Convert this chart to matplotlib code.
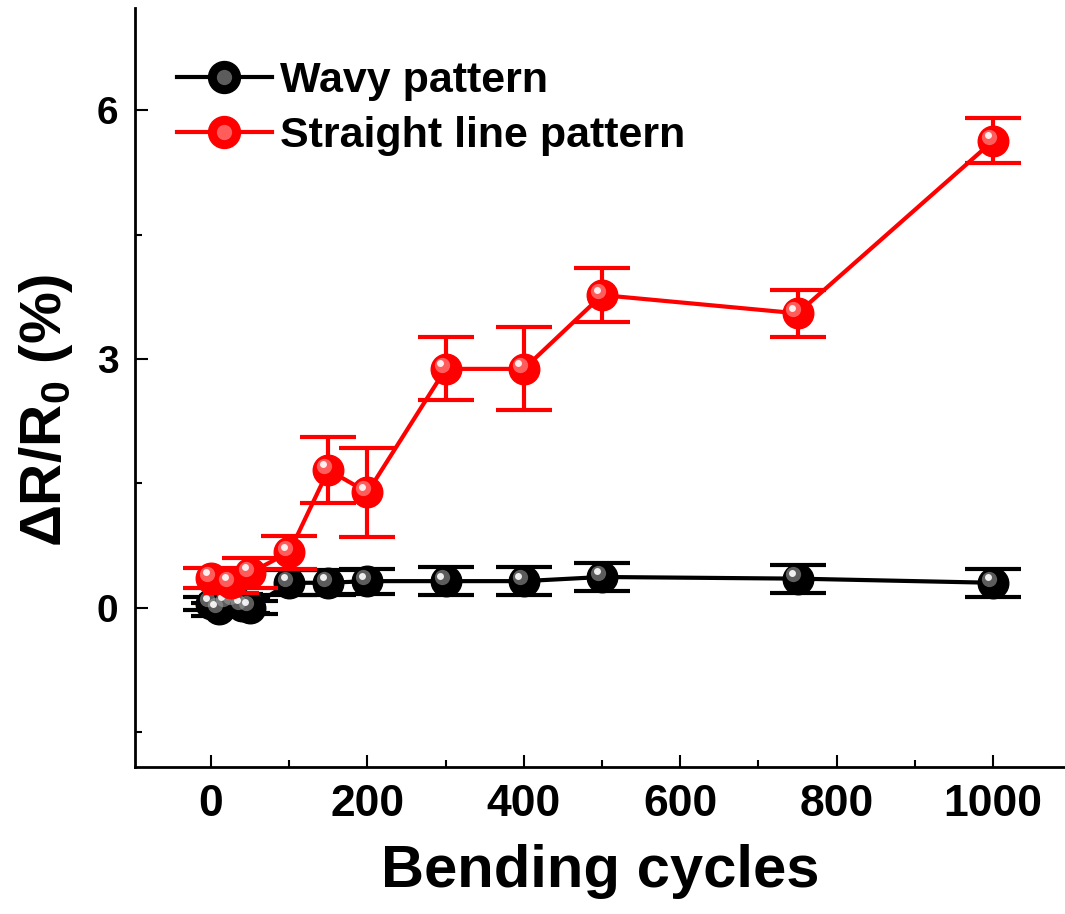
import numpy as np
import matplotlib
matplotlib.use('Agg')
import matplotlib.pyplot as plt
import matplotlib.transforms as mtransforms
from matplotlib.lines import Line2D
from matplotlib.legend_handler import HandlerTuple

plt.rcParams.update({
    'font.family': ['Liberation Sans', 'DejaVu Sans'],
    'font.weight': 'bold',
    'axes.linewidth': 2,
    'mathtext.fontset': 'custom',
    'mathtext.rm': 'Liberation Sans:bold',
    'mathtext.bf': 'Liberation Sans:bold',
})

# data
cycles_wavy = [0, 10, 20, 30, 40, 50, 100, 150, 200, 300, 400, 500, 750, 1000]
dr_wavy = [0.05, -0.02, 0.06, 0.08, 0.02, 0.0, 0.30, 0.30, 0.32, 0.32, 0.32, 0.37, 0.35, 0.30]
err_wavy = [0.08, 0.08, 0.08, 0.08, 0.08, 0.08, 0.15, 0.15, 0.15, 0.17, 0.17, 0.17, 0.17, 0.17]

cycles_straight = [0, 25, 50, 100, 150, 200, 300, 400, 500, 750, 1000]
dr_straight = [0.36, 0.30, 0.42, 0.67, 1.66, 1.39, 2.88, 2.88, 3.77, 3.55, 5.63]
err_straight = [0.12, 0.12, 0.18, 0.2, 0.4, 0.54, 0.38, 0.5, 0.33, 0.28, 0.27]

fig = plt.figure(figsize=(10.65, 9.14), dpi=100)
ax = fig.add_axes([0.127, 0.161, 0.873, 0.83])

def draw(ax, x, y, e, color, hl, z):
    ax.errorbar(x, y, yerr=e, color=color, lw=3, elinewidth=3, capsize=20, capthick=3,
                marker='o', ms=22, mfc=color, mec=color, zorder=z)
    # fake shading on the balls
    off1 = mtransforms.offset_copy(ax.transData, fig=fig, x=-3, y=3, units='points')
    off2 = mtransforms.offset_copy(ax.transData, fig=fig, x=-4, y=4, units='points')
    ax.plot(x, y, 'o', ms=11, color=hl, alpha=0.6, mew=0, transform=off1, zorder=z + 0.1)
    ax.plot(x, y, 'o', ms=5, color='white', alpha=0.9, mew=0, transform=off2, zorder=z + 0.2)

draw(ax, cycles_wavy, dr_wavy, err_wavy, 'black', '#9a9a9a', 3)
draw(ax, cycles_straight, dr_straight, err_straight, '#ff0000', '#ff9a9a', 4)

ax.set_xlim(-97, 1092)
ax.set_ylim(-1.92, 7.23)
ax.set_xticks([0, 200, 400, 600, 800, 1000])
ax.set_xticks([100, 300, 500, 700, 900], minor=True)
ax.set_yticks([0, 3, 6])
ax.set_yticks([-1.5, 1.5, 4.5], minor=True)
ax.spines['top'].set_visible(False)
ax.spines['right'].set_visible(False)
ax.tick_params(which='both', direction='in', width=1.5)
ax.tick_params(which='major', length=9)
ax.tick_params(which='minor', length=5)
ax.tick_params(axis='x', which='major', labelsize=32, pad=12)
ax.tick_params(axis='y', which='major', labelsize=28, pad=12)
ax.set_xlabel('Bending cycles', fontsize=43, fontweight='bold', labelpad=14)
ax.set_ylabel('ΔR/R$_0$ (%)', fontsize=42, fontweight='bold')
ax.yaxis.set_label_coords(-0.065, 0.47)

def proxy(color, hl):
    base = Line2D([], [], color=color, lw=3, marker='o', ms=23, mfc=color, mec=color)
    h1 = Line2D([], [], ls='none', marker='o', ms=11, color=hl, alpha=0.6, mew=0)
    return (base, h1)

ax.legend([proxy('black', '#9a9a9a'), proxy('#ff0000', '#ff9a9a')],
          ['Wavy pattern', 'Straight line pattern'],
          handler_map={tuple: HandlerTuple(ndivide=1, pad=0)},
          loc='upper left', bbox_to_anchor=(0.017, 0.965), frameon=False,
          fontsize=31, handlelength=2.2, handletextpad=0.2, labelspacing=0.35,
          borderaxespad=0.2)

fig.savefig('out.png', dpi=100)
